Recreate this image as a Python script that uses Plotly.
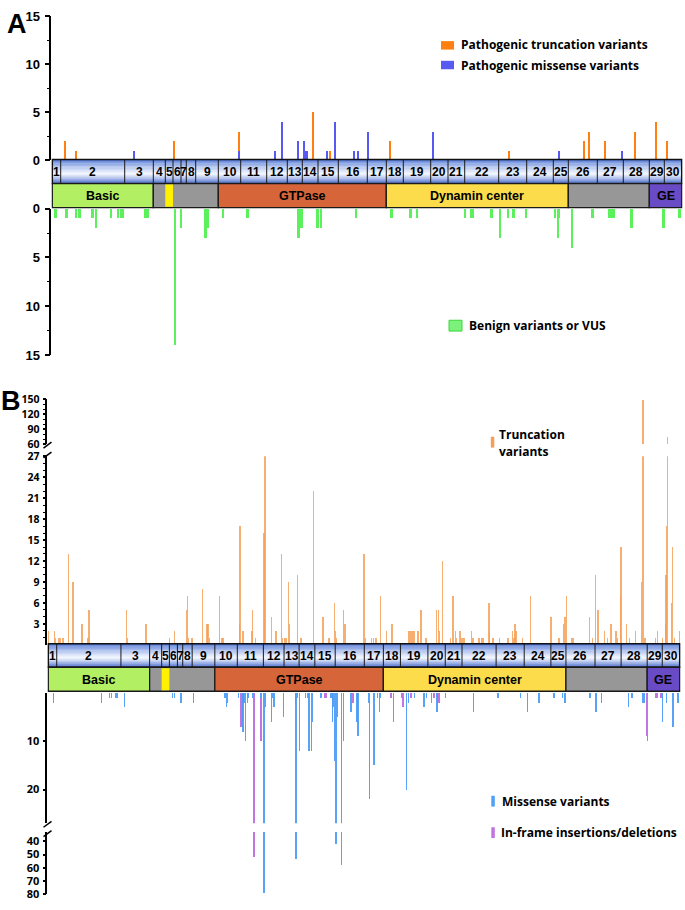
import plotly.graph_objects as go

W, H = 685, 910

# ---------------- gene structure ----------------
EXON_EDGES = [0, 8.4, 72.4, 101, 113, 120.7, 128.7, 134, 143.4, 166, 188.4, 214.4, 235, 250,
              265.7, 286, 315, 334, 351, 378.4, 395.7, 412.4, 446.4, 474.4, 501, 516, 545, 571,
              597, 612, 629.4]
EXON_LABELS = [str(i) for i in range(1, 31)]

DOMAIN_START = [0, 101, 113, 166, 334, 516, 597]
DOMAIN_END = [101, 166, 120.7, 334, 516, 597, 629.4]
DOMAIN_NAMES = ["Basic", "", "", "GTPase", "Dynamin center", "", "GE"]
DOMAIN_COLORS = ["#b3ef63", "#979797", "#fff200", "#d6653a", "#fcdc4b", "#979797", "#6a4bc6"]

# ---------------- panel A ----------------
A_TRUNC_POS = [12.4, 24, 121.4, 187, 260.4, 277.7, 337.7, 456.4, 531.7, 537, 552.7, 582.7, 604, 614.4]
A_TRUNC_N = [2, 1, 2, 2, 5, 1, 2, 1, 2, 3, 2, 3, 4, 2]

A_MISS_POS = [81.4, 187, 223, 230, 245.4, 251.7, 254.4, 274.4, 282.4, 301.7, 305.7, 315.4, 380.4, 506.4, 569.4]
A_MISS_N = [1, 1, 1, 4, 2, 2, 1, 1, 4, 1, 1, 3, 3, 1, 1]

A_BENIGN_POS = [3.7, 14.7, 24, 27.7, 40.4, 44, 59, 66, 69, 70.7, 93.4, 96, 123, 129, 153.4, 155.7,
                171, 195.4, 246.7, 249.4, 265.4, 269, 304, 339.4, 358.4, 365, 413, 419, 420.7,
                439.7, 448, 456, 461.7, 474, 503, 506, 507, 520, 540.7, 557, 558.7, 560, 562,
                579.4, 611.7, 627.4]
A_BENIGN_N = [1, 1, 1, 1, 1, 2, 1, 1, 1, 1, 1, 1, 14, 2, 3, 2,
              1, 1, 3, 2, 2, 2, 1, 1, 1, 1, 1, 1, 1,
              1, 3, 1, 1, 1, 1, 3, 1, 4, 1, 1, 1, 1, 1,
              2, 2, 1]

# ---------------- panel B ----------------
B_TRUNC_POS = [0.4, 6, 7, 10, 11.7, 14.7, 20, 24.7, 33.7, 39.7, 40.7, 77.7, 78.7, 97.4, 121, 126,
               137.7, 138.7, 139.7, 143.4, 153.7, 158, 159, 160.4, 170.4, 173, 174, 190.4, 191, 194,
               203, 203.7, 206.7, 215, 216, 222.4, 227, 232.4, 233.4, 235.4, 237, 239.4, 240.4,
               248.7, 252, 264.4, 273.7, 279.7, 285.4, 286.4, 287.4, 294.4, 295.7,
               314.7, 316, 322.4, 324, 326.7, 331, 337.4, 342.7, 359, 360.7, 362.4, 364.4, 368.4,
               371.7, 376.7, 387, 388.7, 389.7, 392.7, 400.7, 403.4, 405.7, 406.7, 410.4, 412.4,
               413.7, 415, 421.7, 423.4, 429.4, 431.7, 433.4, 439.4, 440, 443.4, 450, 458.4, 463,
               464.4, 465.4, 466.4, 472.4, 480.7, 501, 509, 513.7, 515, 516.4, 522, 523.7, 539.7,
               542.4, 545.4, 548, 554.4, 557.7, 561, 565.7, 567.4, 570.4, 571, 576.4, 579.4, 585.4,
               591.4, 592.7, 595, 605, 607.4, 612, 615, 615.7, 616.4, 617.4, 621.4, 622, 624, 629.4]
B_TRUNC_N = [2, 2, 1, 1, 1, 1, 13, 9, 3, 1, 5, 5, 1, 3, 1, 2,
             5, 7, 1, 1, 8, 3, 3, 1, 7, 1, 1, 3, 17, 2,
             2, 5, 1, 16, 27, 4, 2, 13, 1, 1, 1, 9, 3,
             10, 1, 22, 4, 1, 6, 2, 1, 5, 3,
             13, 1, 1, 1, 1, 7, 2, 3, 2, 2, 2, 2, 2,
             5, 1, 5, 5, 2, 12, 1, 7, 2, 1, 2, 1,
             1, 1, 2, 1, 1, 1, 1, 6, 2, 1, 1, 1, 2,
             1, 3, 2, 1, 7, 4, 1, 3, 4, 7, 1, 1, 4,
             1, 10, 5, 2, 1, 3, 2, 1, 7, 14, 3, 1, 2,
             9, 148, 1, 1, 2, 1, 3, 10, 17, 75, 6, 14, 1, 2]

B_MISS_POS = [5.4, 52.7, 60.7, 62.7, 66.7, 68.4, 75.7, 124, 126, 132.4, 145,
              176, 177.4, 178.4, 189.4, 194, 195, 196.7, 198.4, 199, 203.4, 211.7, 215, 216.4,
              222.4, 223.4, 225, 234.4, 246.7, 247, 248.4, 250.7, 256.7, 259, 260, 262.7, 263.7,
              271.7, 281.7, 283.4, 285, 286.7, 288.4, 292, 294.4, 301.7, 307.7, 308.7,
              319.4, 320, 324.7, 328.4, 330, 331, 344.4, 357.4, 359.4, 365, 374.4, 376.7, 381.7,
              387.4, 395.7, 424, 448.4,
              471, 477.7, 489, 504, 512.7, 515, 540, 546, 551.7, 578.7, 581.7, 592.7, 594, 597,
              612.4, 616, 622.7, 627.7]
B_MISS_N = [2, 2, 1, 1, 1, 1, 3, 1, 1, 2, 2,
            1, 3, 2, 1, 8, 2, 10, 2, 1, 1, 1, 79, 3,
            6, 1, 3, 5, 2, 53, 1, 12, 1, 1, 12, 12, 6,
            1, 1, 6, 14, 42, 5, 58, 10, 4, 6, 9,
            2, 22, 15, 1, 4, 1, 6, 20, 2, 1, 3, 1, 2,
            4, 1, 4, 1,
            1, 4, 2, 1, 1, 2, 1, 4, 2, 3, 1, 2, 2, 1,
            6, 2, 7, 2]

B_INDEL_POS = [193, 205.4, 212.7, 276.7, 284.4, 304, 341.7, 352.7, 354.4, 361.7, 385, 389.4, 597, 606.7, 611.7]
B_INDEL_N = [7, 52, 10, 1, 3, 2, 1, 1, 3, 1, 1, 2, 9, 1, 1]

# ---------------- styling ----------------
A_ORANGE = "#ff8010"
A_BLUE = "#5858f2"
A_GREEN = "#5cf05c"
B_ORANGE = "rgba(246,160,88,0.85)"
B_BLUE = "rgba(72,155,246,0.92)"
B_PURPLE = "#c274e0"

FA = "Liberation Sans, Arial, sans-serif"
FB = "Open Sans, sans-serif"


def px(x):
    return x / W


def py(y):
    return 1 - y / H


fig = go.Figure()

# Panel A bars
fig.add_trace(go.Bar(x=A_MISS_POS, y=A_MISS_N, width=2, marker=dict(color=A_BLUE, line_width=0),
                     xaxis="x", yaxis="y", name="Pathogenic missense variants"))
fig.add_trace(go.Bar(x=A_TRUNC_POS, y=A_TRUNC_N, width=2, marker=dict(color=A_ORANGE, line_width=0),
                     xaxis="x", yaxis="y", name="Pathogenic truncation variants"))
fig.add_trace(go.Bar(x=A_BENIGN_POS, y=A_BENIGN_N, width=1.6, marker=dict(color=A_GREEN, line_width=0),
                     xaxis="x", yaxis="y2", name="Benign variants or VUS"))

# Panel B truncation (two broken segments)
for ya in ["y3", "y4"]:
    fig.add_trace(go.Bar(x=B_TRUNC_POS, y=B_TRUNC_N, width=1.4, marker=dict(color=B_ORANGE, line_width=0),
                         xaxis="x2", yaxis=ya, name="Truncation variants"))
# Panel B missense / in-frame (two broken segments)
for ya in ["y5", "y6"]:
    fig.add_trace(go.Bar(x=B_INDEL_POS, y=B_INDEL_N, width=1.3, marker=dict(color=B_PURPLE, line_width=0),
                         xaxis="x2", yaxis=ya, name="In-frame insertions/deletions"))
    fig.add_trace(go.Bar(x=B_MISS_POS, y=B_MISS_N, width=1.3, marker=dict(color=B_BLUE, line_width=0),
                         xaxis="x2", yaxis=ya, name="Missense variants"))

shapes = []
annots = []


def grad(t):
    top = (72, 112, 212)
    bot = (52, 92, 200)
    white = (246, 249, 255)
    if t < 0.6:
        w = t / 0.6
        base = top
    else:
        w = (1 - t) / 0.4
        base = bot
    w = max(0.0, min(1.0, w)) ** 0.75
    c = [round(base[i] + (white[i] - base[i]) * w) for i in range(3)]
    return "rgb(%d,%d,%d)" % tuple(c)


def gene_bar(xref, top, mid, bot):
    n = 18
    for i in range(n):
        t = (i + 0.5) / n
        y0 = top + (mid - top) * i / n
        y1 = top + (mid - top) * (i + 1) / n + 0.4
        shapes.append(dict(type="rect", xref=xref, yref="paper", x0=EXON_EDGES[0], x1=EXON_EDGES[-1],
                           y0=py(y1), y1=py(y0), fillcolor=grad(t), line_width=0))
    for e in EXON_EDGES[1:-1]:
        shapes.append(dict(type="line", xref=xref, yref="paper", x0=e, x1=e, y0=py(top), y1=py(mid),
                           line=dict(color="#1a1a1a", width=1)))
    shapes.append(dict(type="rect", xref=xref, yref="paper", x0=EXON_EDGES[0], x1=EXON_EDGES[-1],
                       y0=py(mid), y1=py(top), line=dict(color="#111", width=1.5)))
    for i, lab in enumerate(EXON_LABELS):
        annots.append(dict(xref=xref, yref="paper", x=(EXON_EDGES[i] + EXON_EDGES[i + 1]) / 2,
                           y=py((top + mid) / 2 + 0.5), text=lab, showarrow=False, xanchor="center",
                           yanchor="middle", font=dict(family=FA, size=12, color="black", weight="bold")))
    for s, e, name, col in zip(DOMAIN_START, DOMAIN_END, DOMAIN_NAMES, DOMAIN_COLORS):
        is_inner = col == "#fff200"
        shapes.append(dict(type="rect", xref=xref, yref="paper", x0=s, x1=e, y0=py(bot - (1 if is_inner else 0)),
                           y1=py(mid + (1 if is_inner else 0)), fillcolor=col,
                           line=dict(color="#1a1a1a", width=0 if is_inner else 1.3)))
        if name:
            annots.append(dict(xref=xref, yref="paper", x=(s + e) / 2, y=py((mid + bot) / 2 + 0.5), text=name,
                               showarrow=False, xanchor="center", yanchor="middle",
                               font=dict(family=FA, size=12.5, color="black", weight="bold")))


gene_bar("x", 155, 179.5, 204)
gene_bar("x2", 647.3, 671.3, 695.7)


def slash(x0, y0, x1, y1):
    shapes.append(dict(type="line", xref="paper", yref="paper", x0=px(x0), y0=py(y0), x1=px(x1), y1=py(y1),
                       line=dict(color="black", width=1.5)))


slash(43.5, 448.5, 51.5, 442.5)
slash(43.5, 458.5, 51.5, 452.5)
slash(43.5, 834, 51.5, 828)
slash(43.5, 843.5, 51.5, 837.5)


def legend_box(x0, x1, y0, y1, color, line=None):
    shapes.append(dict(type="rect", xref="paper", yref="paper", x0=px(x0), x1=px(x1), y0=py(y1), y1=py(y0),
                       fillcolor=color, line=dict(color=line or color, width=1 if line else 0)))


def label(x, y, text, size=12, family=FB, xanchor="left"):
    annots.append(dict(xref="paper", yref="paper", x=px(x), y=py(y), text=text, showarrow=False,
                       xanchor=xanchor, yanchor="middle",
                       font=dict(family=family, size=size, color="black", weight="bold")))


legend_box(441, 454, 34.7, 43.3, A_ORANGE)
label(459, 38.5, "Pathogenic truncation variants")
legend_box(441, 454, 54.7, 63.3, A_BLUE)
label(459, 59, "Pathogenic missense variants")
legend_box(449, 462, 318.5, 329.5, "#7cf27c", "#3ad83a")
label(467, 324, "Benign variants or VUS")

legend_box(490.8, 494.3, 437, 448, "#f5a05a")
label(496.5, 435, "Truncation")
label(496.5, 452, "variants")
legend_box(491.3, 494.8, 802, 813, "#4f9ff6")
label(499.5, 807.5, "Missense variants")
legend_box(491.3, 494.8, 834, 845, B_PURPLE)
label(498.5, 839.5, "In-frame insertions/deletions")

label(16.5, 17, "A", size=27, family=FA, xanchor="center")
label(10.5, 401, "B", size=27, family=FA, xanchor="center")


def yax(dom_bottom, dom_top, rng, tickvals, minor_vals, font, size, ticklen=5, standoff=2):
    d = dict(domain=[py(dom_bottom), py(dom_top)], range=rng, tickmode="array", tickvals=tickvals,
             showline=True, linecolor="black", linewidth=1.6, ticks="outside", ticklen=ticklen, tickwidth=1.5,
             tickcolor="black", showgrid=False, zeroline=False, ticklabelstandoff=standoff,
             tickfont=dict(family=font, size=size, color="black", weight="bold"))
    if minor_vals:
        d["minor"] = dict(tickmode="array", tickvals=minor_vals, ticks="outside", ticklen=3,
                          tickwidth=1.2, tickcolor="black", showgrid=False)
    return d


layout = dict(
    width=W, height=H, autosize=False, margin=dict(l=0, r=0, t=0, b=0),
    paper_bgcolor="white", plot_bgcolor="rgba(0,0,0,0)", barmode="stack", showlegend=False,
    xaxis=dict(domain=[px(51.3), px(682.7)], range=[-1, 630.4], visible=False, anchor="y"),
    xaxis2=dict(domain=[px(47.3), px(680.7)], range=[-1, 630.4], visible=False, anchor="y3"),
    yaxis=dict(anchor="x", **yax(156, 9.5, [0, 15], [0, 5, 10, 15], [2.5, 7.5, 12.5], FA, 13)),
    yaxis2=dict(anchor="x", **yax(354, 205, [15, 0], [0, 5, 10, 15], [2.5, 7.5, 12.5], FA, 13)),
    yaxis3=dict(anchor="x2", **yax(648.5, 456.7, [0, 27], list(range(3, 28, 3)),
                                   [v for v in range(1, 27) if v % 3], FB, 10.5, 3, 1)),
    yaxis4=dict(anchor="x2", **yax(444.3, 399, [60, 150], [60, 90, 120, 150], [70, 80, 100, 110, 130, 140],
                                   FB, 10.5, 3, 1)),
    yaxis5=dict(anchor="x2", **yax(830, 697.5, [27, 0], [10, 20], None, FB, 11, 3, 1)),
    yaxis6=dict(anchor="x2", **yax(902.3, 838.8, [80, 33], [40, 50, 60, 70, 80], None, FB, 11, 3, 1)),
    shapes=shapes, annotations=annots,
)
fig.update_layout(**layout)
fig.write_html("out.html", config={"displayModeBar": False},
               post_script="document.body.style.margin='0px';document.body.style.overflow='hidden';")
